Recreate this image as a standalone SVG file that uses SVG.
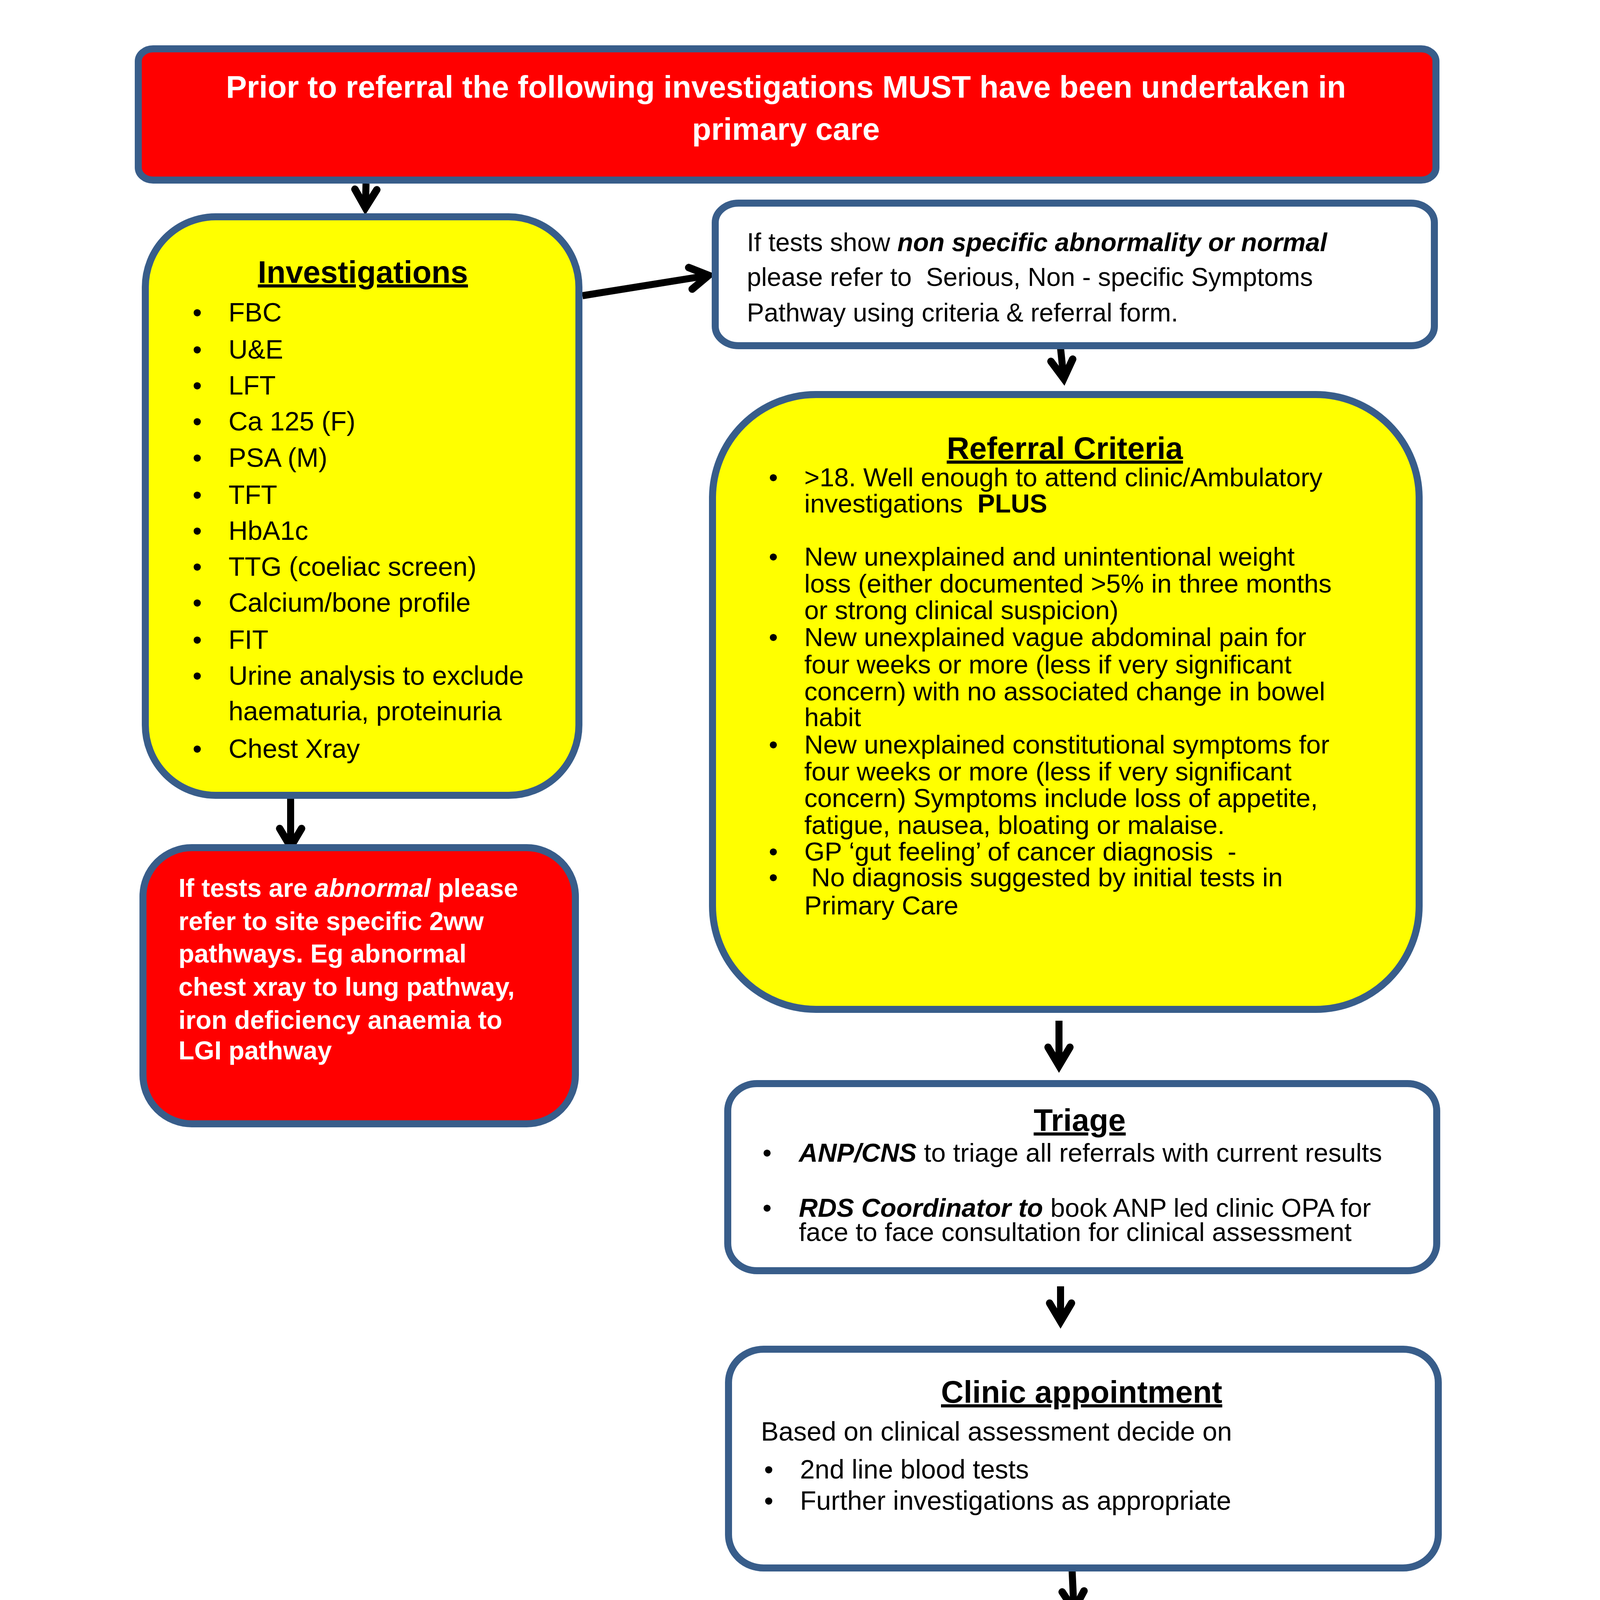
<svg xmlns="http://www.w3.org/2000/svg" width="4961" height="7016" viewBox="0 0 4961 7016">
<style>
text{font-family:"Liberation Sans",Arial,sans-serif;fill:#000}
.box{stroke:#385D8A;stroke-width:18}
.red{fill:#FF0000}.yel{fill:#FFFF00}.wht{fill:#FFFFFF}.grn{fill:#92D050}
.w{fill:#FFFFFF;font-weight:bold}
.ttl{font-weight:bold;font-size:80px;text-decoration:underline;text-anchor:middle}
.b68{font-size:68px}
.b67{font-size:67px}
.b{font-weight:bold}
.bi{font-weight:bold;font-style:italic}
.g{font-size:66px;text-anchor:middle}
.gt{font-size:64px;font-weight:bold;text-decoration:underline;text-anchor:middle}
.con{stroke:#000;stroke-width:18;fill:none;marker-end:url(#ah)}
</style>
<defs>
<marker id="ah" markerUnits="userSpaceOnUse" orient="auto" overflow="visible" markerWidth="10" markerHeight="10" refX="0" refY="0">
<path d="M -41,-28 L 6,0 L -41,28" fill="none" stroke="#000" stroke-width="19" stroke-linecap="round" stroke-linejoin="miter"/>
</marker>
</defs>
<rect width="4961" height="7016" fill="#FFFFFF"/>

<g id="connectors">
<line class="con" x1="937" y1="470" x2="935.6" y2="526"/>
<line class="con" x1="1491" y1="757" x2="1808" y2="706"/>
<line class="con" x1="2713" y1="872" x2="2722.5" y2="963"/>
<line class="con" x1="744" y1="2045" x2="744" y2="2162"/>
<line class="con" x1="2711" y1="2613" x2="2711" y2="2722"/>
<line class="con" x1="2715" y1="3293" x2="2715" y2="3377"/>
<line class="con" x1="2744" y1="4008" x2="2749" y2="4115"/>
<line class="con" x1="2746" y1="4420" x2="1686" y2="4869"/>
<line class="con" style="stroke-width:12" x1="2746" y1="4420" x2="2768.7" y2="4856"/>
<line class="con" x1="2746" y1="4420" x2="3783" y2="4865"/>
</g>

<g id="node-prior">
<rect class="box red" x="354" y="125" width="3322" height="336" rx="38" ry="32"/>
<text class="w" font-size="80" x="2012" y="250" text-anchor="middle">Prior to referral the following investigations MUST have been undertaken in</text>
<text class="w" font-size="80" x="2012" y="358" text-anchor="middle">primary care</text>
</g>

<g id="node-investigations">
<rect class="box yel" x="372" y="555" width="1110" height="1481" rx="180" ry="180"/>
<text class="ttl" x="929" y="724">Investigations</text>
<g class="b68">
<text x="493" y="823">•</text><text x="585" y="823">FBC</text>
<text x="493" y="918">•</text><text x="585" y="918">U&amp;E</text>
<text x="493" y="1010">•</text><text x="585" y="1010">LFT</text>
<text x="493" y="1102">•</text><text x="585" y="1102">Ca 125 (F)</text>
<text x="493" y="1195">•</text><text x="585" y="1195">PSA (M)</text>
<text x="493" y="1290">•</text><text x="585" y="1290">TFT</text>
<text x="493" y="1382">•</text><text x="585" y="1382">HbA1c</text>
<text x="493" y="1474">•</text><text x="585" y="1474">TTG (coeliac screen)</text>
<text x="493" y="1566">•</text><text x="585" y="1566">Calcium/bone profile</text>
<text x="493" y="1661">•</text><text x="585" y="1661">FIT</text>
<text x="493" y="1753">•</text><text x="585" y="1753">Urine analysis to exclude</text>
<text x="585" y="1844">haematuria, proteinuria</text>
<text x="493" y="1940">•</text><text x="585" y="1940">Chest Xray</text>
</g>
</g>

<g id="node-nonspecific">
<rect class="box wht" x="1831" y="520" width="1841" height="365" rx="60" ry="50"/>
<g font-size="66">
<text x="1912" y="643">If tests show <tspan class="bi">non specific abnormality or normal</tspan></text>
<text x="1912" y="732" xml:space="preserve">please refer to  Serious, Non - specific Symptoms</text>
<text x="1912" y="823">Pathway using criteria &amp; referral form.</text>
</g>
</g>

<g id="node-criteria">
<rect class="box yel" x="1824" y="1010" width="1809" height="1574" rx="265" ry="265"/>
<text class="ttl" x="2726" y="1175">Referral Criteria</text>
<g class="b67">
<text x="1968" y="1245">•</text><text x="2059" y="1245">&gt;18. Well enough to attend clinic/Ambulatory</text>
<text x="2059" y="1312" xml:space="preserve">investigations  <tspan class="b">PLUS</tspan></text>
<text x="1968" y="1448">•</text><text x="2059" y="1448">New unexplained and unintentional weight</text>
<text x="2059" y="1517">loss (either documented &gt;5% in three months</text>
<text x="2059" y="1585">or strong clinical suspicion)</text>
<text x="1968" y="1654">•</text><text x="2059" y="1654">New unexplained vague abdominal pain for</text>
<text x="2059" y="1724">four weeks or more (less if very significant</text>
<text x="2059" y="1793">concern) with no associated change in bowel</text>
<text x="2059" y="1859">habit</text>
<text x="1968" y="1929">•</text><text x="2059" y="1929">New unexplained constitutional symptoms for</text>
<text x="2059" y="1998">four weeks or more (less if very significant</text>
<text x="2059" y="2066">concern) Symptoms include loss of appetite,</text>
<text x="2059" y="2135">fatigue, nausea, bloating or malaise.</text>
<text x="1968" y="2203">•</text><text x="2059" y="2203" xml:space="preserve">GP ‘gut feeling’ of cancer diagnosis  -</text>
<text x="1968" y="2269">•</text><text x="2077" y="2269">No diagnosis suggested by initial tests in</text>
<text x="2059" y="2341">Primary Care</text>
</g>
</g>

<g id="node-abnormal">
<rect class="box red" x="366" y="2170" width="1107" height="707" rx="125" ry="125"/>
<g font-size="66">
<text x="457" y="2296" class="w">If tests are <tspan font-style="italic">abnormal</tspan> please</text>
<text x="457" y="2381" class="w">refer to site specific 2ww</text>
<text x="457" y="2464" class="w">pathways. Eg abnormal</text>
<text x="457" y="2549" class="w">chest xray to lung pathway,</text>
<text x="457" y="2634" class="w">iron deficiency anaemia to</text>
<text x="457" y="2712" class="w">LGI pathway</text>
</g>
</g>

<g id="node-triage">
<rect class="box wht" x="1863" y="2774" width="1815" height="479" rx="75" ry="70"/>
<text class="ttl" x="2764" y="2895">Triage</text>
<g class="b67">
<text x="1952" y="2974">•</text><text x="2045" y="2974"><tspan class="bi">ANP/CNS</tspan> to triage all referrals with current results</text>
<text x="1952" y="3115">•</text><text x="2045" y="3115"><tspan class="bi">RDS Coordinator to</tspan> book ANP led clinic OPA for</text>
<text x="2045" y="3177">face to face consultation for clinical assessment</text>
</g>
</g>

<g id="node-clinic">
<rect class="box wht" x="1865" y="3454" width="1817" height="560" rx="90" ry="85"/>
<text class="ttl" x="2769" y="3591">Clinic appointment</text>
<g class="b68">
<text x="1948" y="3688">Based on clinical assessment decide on</text>
<text x="1956" y="3785">•</text><text x="2048" y="3785">2nd line blood tests</text>
<text x="1956" y="3865">•</text><text x="2048" y="3865">Further investigations as appropriate</text>
</g>
</g>

<g id="node-mdt">
<rect class="box wht" x="1819" y="4186" width="1841" height="232" rx="45" ry="40"/>
<text x="1869" y="4307" font-size="80"><tspan class="b">MDT discussion – </tspan>Investigations/next steps</text>
</g>

<g id="node-no-evidence">
<rect class="box grn" x="1190" y="4881" width="925" height="342" rx="45" ry="40"/>
<text class="gt" x="1647" y="4988">No evidence of cancer</text>
<text class="g" x="1642" y="5075">Discharge back to GP</text>
<text class="g" x="1642" y="5152">with advice letter</text>
</g>

<g id="node-suspicion">
<rect class="box grn" x="2308" y="4881" width="921" height="349" rx="45" ry="40"/>
<text class="gt" x="2762" y="4988">Suspicion of cancer</text>
<text class="g" x="2766" y="5075">Upgrade onto a 62 day</text>
<text class="g" x="2766" y="5181">pathway.</text>
</g>

<g id="node-other">
<rect class="box grn" x="3364" y="4876" width="915" height="347" rx="45" ry="40"/>
<text class="gt" x="3819" y="4980">Other disease</text>
<text class="g" x="3817" y="5069" xml:space="preserve">Referral to  other</text>
<text class="g" x="3809" y="5169">specialty as appropriate</text>
</g>

<g id="footer" font-size="82">
<text x="607" y="6473">RDS Team</text>
<text x="607" y="6586">Oct 2019. Reviewed May 2021</text>
</g>
</svg>
